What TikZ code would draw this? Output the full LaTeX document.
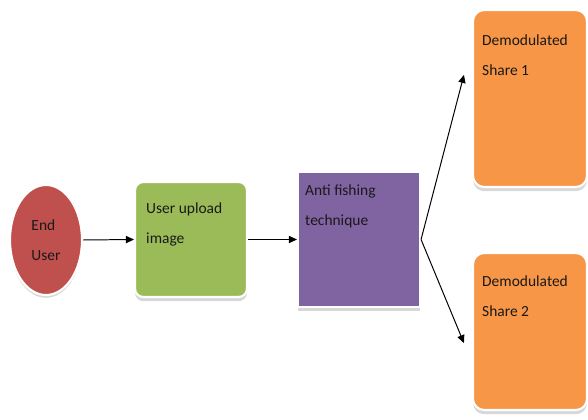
\documentclass[tikz,border=0pt]{standalone}
\usepackage{fontspec}
\setmainfont{Carlito}
\usepackage{xcolor}
\usetikzlibrary{positioning,arrows.meta,shapes.geometric,shadows}
\definecolor{userred}{HTML}{C0504D}
\definecolor{uploadgreen}{HTML}{9BBB59}
\definecolor{antipurple}{HTML}{8064A2}
\definecolor{shareorange}{HTML}{F79646}
\tikzset{
    flowuser/.style={draw=white, line width=1.5pt, ellipse, fill=userred, align=left, minimum width=1.8cm, minimum height=2.75cm, drop shadow={shadow xshift=0pt, shadow yshift=-2pt, fill=gray!60, opacity=0.5}},
    flowbox/.style={draw=white, line width=1.5pt, rectangle, minimum width=2.8cm, minimum height=2.8cm, drop shadow={shadow xshift=0pt, shadow yshift=-3pt, fill=gray!60, opacity=0.5}},
    flowtext/.style={font=\fontsize{11}{21}\selectfont, text=black!90, align=left, anchor=north west, inner sep=0pt},
    flowarrow/.style={draw, -{Triangle[length=2mm, width=1.8mm]}, line width=0.7pt}
}
\begin{document}
\begin{tikzpicture}
    \useasboundingbox (0,0) rectangle (14.7,10.475);
    \node[flowuser, font=\fontsize{11}{21}\selectfont, text=black!90] (enduser) at (1.15,4.475) {End\\User};
    \node[flowbox, fill=uploadgreen, rounded corners=6pt, minimum width=2.8cm, minimum height=2.875cm,
        label={[flowtext, xshift=0.3cm, yshift=-0.55cm]north west:{User upload\\image}}] (upload) at (4.775,4.4875) {};
    \node[flowbox, fill=antipurple, minimum width=3.05cm, minimum height=3.375cm,
        label={[flowtext, xshift=0.2cm, yshift=-0.35cm]north west:{Anti fishing\\technique}}] (anti) at (8.975,4.4875) {};
    \node[flowbox, fill=shareorange, rounded corners=8pt, minimum width=2.85cm, minimum height=4.425cm,
        label={[flowtext, xshift=0.25cm, yshift=-0.65cm]north west:{Demodulated\\Share 1}}] (share1) at (13.25,8.0125) {};
    \node[flowbox, fill=shareorange, rounded corners=8pt, minimum width=2.85cm, minimum height=3.925cm,
        label={[flowtext, xshift=0.25cm, yshift=-0.6cm]north west:{Demodulated\\Share 2}}] (share2) at (13.25,2.1875) {};

    \draw[flowarrow] (enduser.east) -- (upload.west);
    \draw[flowarrow] (upload.east) -- (anti.west);
    \draw[flowarrow] (anti.east) -- ([xshift=-0.2cm, yshift=0.59cm]share1.west);
    \draw[flowarrow] (anti.east) -- ([xshift=-0.2cm, yshift=-0.29cm]share2.west);
\end{tikzpicture}
\end{document}
